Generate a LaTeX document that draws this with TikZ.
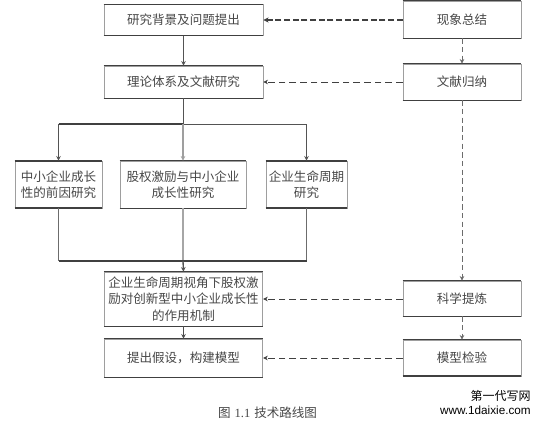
\documentclass[tikz,border=0pt]{standalone}
\usepackage{fontspec}
\setmainfont{Noto Sans CJK SC}
\newfontfamily\latinserif{Liberation Serif}
\newfontfamily\latinsans{Liberation Sans}
\usetikzlibrary{arrows.meta}
\definecolor{inkc}{gray}{0.25}
\definecolor{txtc}{gray}{0.28}
\definecolor{sidec}{gray}{0.62}
\tikzset{
  px/.style={x=0.75pt,y=-0.75pt},
  boxn/.style={draw=sidec,line width=0.5pt,fill=white,inner sep=0pt,align=center,text=txtc,
    font=\fontsize{9.4pt}{12.3pt}\selectfont},
  edgeln/.style={draw=inkc,line width=0.8pt},
  heavyln/.style={draw=inkc,line width=1.5pt},
  flow/.style={draw=inkc!90,line width=0.7pt,-{Stealth[length=3.5pt,width=3.5pt]}},
  plainflow/.style={draw=inkc!90,line width=0.7pt},
  lightflow/.style={draw=gray!70,line width=1pt},
  dashflow/.style={draw=gray!85!black,line width=0.7pt,dash pattern=on 4pt off 2.5pt,-{Stealth[length=3.5pt,width=3.5pt]}},
  backflow/.style={draw=inkc,line width=0.7pt,dash pattern=on 5pt off 3pt,-{Stealth[length=3.5pt,width=3.5pt]}},
  backheavy/.style={draw=inkc,line width=1.3pt,dash pattern=on 4.5pt off 2pt,-{Stealth[length=4pt,width=4pt]}},
}
\begin{document}
\begin{tikzpicture}[px]
\useasboundingbox[fill=white] (0,0) rectangle (542,424);
% left column
\node[boxn,minimum width=119.25pt,minimum height=23pt] (bg) at (183.5,20) {研究背景及问题提出};
\node[boxn,minimum width=119.25pt,minimum height=24pt] (th) at (183.5,82) {理论体系及文献研究};
\node[boxn,minimum width=65.25pt,minimum height=35.25pt] (ca) at (58.5,184.5) {中小企业成长\\性的前因研究};
\node[boxn,minimum width=94.5pt,minimum height=35.25pt] (eq) at (183,184.5) {股权激励与中小企业\\成长性研究};
\node[boxn,minimum width=60.75pt,minimum height=35.25pt] (lc) at (306.5,184.5) {企业生命周期\\研究};
\node[boxn,minimum width=118.9pt,minimum height=40.5pt] (me) at (183.5,299) {企业生命周期视角下股权激\\励对创新型中小企业成长性\\的作用机制};
\node[boxn,minimum width=118.9pt,minimum height=28.5pt] (hy) at (183.5,358) {提出假设，构建模型};
% right column
\node[boxn,minimum width=88.5pt,minimum height=27.75pt] (ph) at (462,19.5) {现象总结};
\node[boxn,minimum width=88.5pt,minimum height=27pt] (li) at (462,82) {文献归纳};
\node[boxn,minimum width=88.5pt,minimum height=26.25pt] (sc) at (462,298.5) {科学提炼};
\node[boxn,minimum width=88.5pt,minimum height=27pt] (mo) at (462,358) {模型检验};
% darker top and bottom edges of the boxes
\foreach \n in {bg,th,eq,me,hy,ph,li,sc}{
  \draw[edgeln] (\n.north west) -- (\n.north east);
  \draw[edgeln] (\n.south west) -- (\n.south east);
}
\draw[edgeln] (mo.north west) -- (mo.north east);
\draw[heavyln] (mo.south west) -- (mo.south east);
\foreach \n in {ca,lc}{
  \draw[heavyln] (\n.north west) -- (\n.north east);
  \draw[heavyln] (\n.south west) -- (\n.south east);
}
% junctions
\coordinate (jt) at (183,124.5);
\coordinate (jb) at (183,261);
\coordinate (jtl) at (ca.north |- jt);
\coordinate (jtr) at (lc.north |- jt);
\coordinate (jbl) at (ca.south |- jb);
\coordinate (jbr) at (lc.south |- jb);
% forward flow
\draw[flow] (bg) -- (th);
\draw[plainflow] (th.south -| jt) -- (jt);
\draw[heavyln] (jtl) -- (jt);
\draw[plainflow] (jt) -- (jtr);
\draw[flow] (jtl) -- (ca.north);
\draw[flow,draw=gray!75,line width=1pt] (jt) -- (eq.north);
\draw[flow] (jtr) -- (lc.north);
\draw[plainflow,line width=0.9pt,draw=gray!85!black] (ca.south) -- (jbl);
\draw[lightflow] (eq.south) -- (jb);
\draw[plainflow,draw=gray!85!black] (lc.south) -- (jbr);
\draw[heavyln] (jbl) -- (jbr);
\draw[flow,line width=1pt] (jb) -- (me.north);
\draw[flow,line width=1pt,draw=gray!60!black] (me) -- (hy);
% right column flow
\draw[dashflow] (ph) -- (li);
\draw[dashflow] (li) -- (sc);
\draw[dashflow] (sc) -- (mo);
% back links
\draw[backheavy] (ph.west |- bg.east) -- (bg.east);
\draw[backflow] (li.west |- th.east) -- (th.east);
\draw[backflow] (sc.west |- me.east) -- (me.east);
\draw[backflow] (mo.west |- hy.east) -- (hy.east);
% caption
\node[text=txtc,font=\fontsize{9.4pt}{11pt}\selectfont,inner sep=0pt] (cap) at (267.5,413) {图\hspace{3pt}{\latinserif 1.1}\hspace{3pt}技术路线图};
% watermark
\node[text=black,font=\fontsize{9pt}{11pt}\selectfont,inner sep=0pt,anchor=east] (wm1) at (531,396) {第一代写网};
\node[text=black,font=\latinsans\fontsize{8.8pt}{11pt}\selectfont,inner sep=0pt,anchor=east] (wm2) at (531,410) {www.1daixie.com};
\end{tikzpicture}
\end{document}
